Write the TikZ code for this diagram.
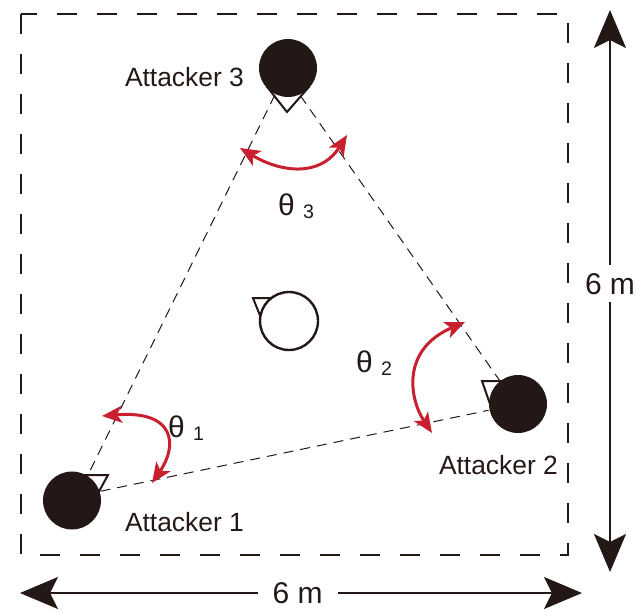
\documentclass[tikz,border=0pt]{standalone}
\usepackage{fontspec}
\setmainfont{Liberation Sans}
\usetikzlibrary{arrows.meta}
\definecolor{cblack}{HTML}{231815}
\definecolor{cred}{HTML}{C8202F}
\tikzset{
  every picture/.style={line width=1pt},
  attacker/.style={circle, fill=cblack, minimum size=29pt, inner sep=0pt},
  target/.style={circle, draw=cblack, fill=white, line width=1.2pt, minimum size=29pt, inner sep=0pt},
  heading/.style={draw=cblack, fill=white, line width=1pt, line join=miter},
  fov/.style={draw=cblack, line width=0.5pt, dash pattern=on 5pt off 3.5pt},
  arena/.style={draw=cblack, line width=1pt, dash pattern=on 10pt off 10pt},
  anglearc/.style={{Stealth[length=10pt, width=8.5pt, inset=2.5pt]}-{Stealth[length=10pt, width=8.5pt, inset=2.5pt]}, draw=cred, line width=1.5pt},
  dim/.style={{Stealth[length=19pt, width=16pt, inset=4pt]}-{Stealth[length=19pt, width=16pt, inset=4pt]}, draw=cblack, line width=1pt},
  tag/.style={font=\fontsize{13.2}{15}\selectfont, text=cblack, anchor=base west, inner sep=0pt},
  angtag/.style={font=\fontsize{15}{17}\selectfont, text=cblack, anchor=base west, inner sep=0pt},
  dimtag/.style={font=\fontsize{15}{17}\selectfont, text=cblack, fill=white, inner xsep=7.5pt, inner ysep=4pt},
}
\newcommand{\sub}[1]{{\fontsize{9.8}{11}\selectfont\raisebox{-1.5pt}{#1}}}

\begin{document}
\begin{tikzpicture}[x=0.5pt, y=-0.5pt]
  \useasboundingbox (0,0) rectangle (643,611);
  \draw[arena] (21,14) rectangle (568,555);
  % heading markers, under the robots
  \draw[heading] (268,88) -- (308,88) -- (287,112) -- cycle;
  \draw[heading] (84,475) -- (108,475) -- (97,495) -- cycle;
  \draw[heading] (482,381) -- (508,381) -- (490,404) -- cycle;
  \draw[heading] (253,298) -- (282,298) -- (263,323) -- cycle;
  \node[attacker] (a3) at (288,68) {};
  \node[attacker] (a1) at (72,500.5) {};
  \node[attacker] (a2) at (518,404) {};
  \node[target] (tgt) at (289,321) {};
  \node[tag] (l3) at (124,86.5) {Attacker 3};
  \node[tag] (l1) at (124,531.5) {Attacker 1};
  \node[tag] (l2) at (438,474.5) {Attacker 2};
  % formation
  \draw[fov] (a3.244) -- (a1.58);
  \draw[fov] (a3.294) -- (a2.128);
  \draw[fov] (a1.18) -- (a2.192);
  % angles
  \coordinate (t3s) at (240,148);
  \coordinate (t3e) at (347,135);
  \coordinate (t1s) at (102,416);
  \coordinate (t1e) at (152,483);
  \coordinate (t2s) at (465,322);
  \coordinate (t2e) at (432,433);
  \draw[anglearc] (t3s) .. controls (280,172) and (320,178) .. (t3e);
  \draw[anglearc] (t1s) .. controls (175,410) and (178,445) .. (t1e);
  \draw[anglearc] (t2s) .. controls (400,350) and (410,400) .. (t2e);
  \node[angtag] (th3) at (277,215) {θ \sub{3}};
  \node[angtag] (th1) at (167,437) {θ \sub{1}};
  \node[angtag] (th2) at (355,372) {θ \sub{2}};
  % size of the arena
  \coordinate (vtop) at (610,10);
  \coordinate (vbot) at (610,572);
  \coordinate (hleft) at (20,593);
  \coordinate (hright) at (582,593);
  \draw[dim] (vtop) -- node[dimtag, pos=0.487] (vlen) {6 m} (vbot);
  \draw[dim] (hleft) -- node[dimtag, pos=0.494] (hlen) {6 m} (hright);
\end{tikzpicture}
\end{document}
